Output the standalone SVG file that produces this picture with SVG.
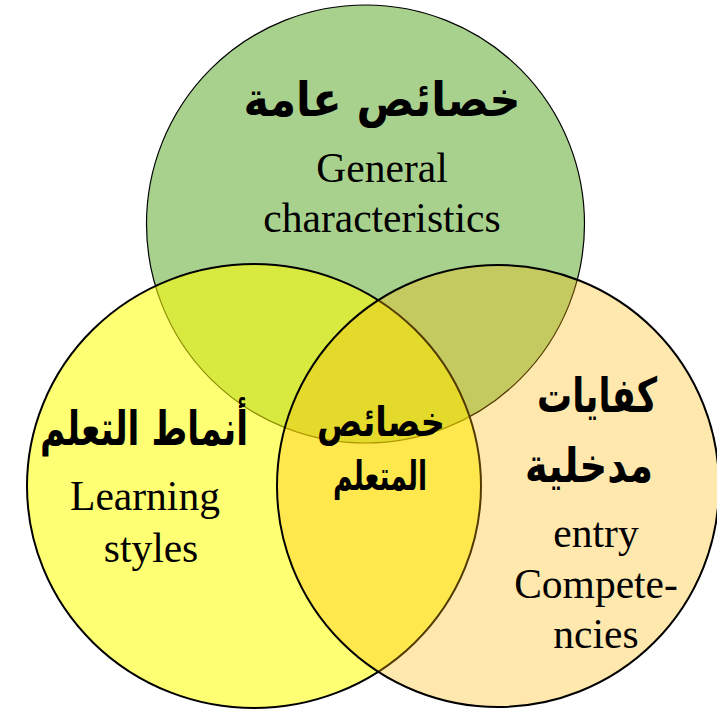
<svg xmlns="http://www.w3.org/2000/svg" width="717" height="710" viewBox="0 0 717 710">
<style>
.en{font-family:"Liberation Serif","Times New Roman",serif;font-size:41.5px;fill:#000;text-anchor:middle}
.ar{font-family:"DejaVu Sans","Noto Sans",sans-serif;font-weight:bold;font-size:48px;fill:#000;text-anchor:middle}
.arS{font-family:"DejaVu Sans","Noto Sans",sans-serif;font-weight:bold;font-size:41px;fill:#000;text-anchor:middle}
</style>
<rect width="717" height="710" fill="#fff"/>
<g id="general">
<circle cx="365.5" cy="224" r="219" fill="#a9d18e" stroke="#000" stroke-width="1.2"/>
<text class="ar" x="382" y="116" textLength="277" lengthAdjust="spacingAndGlyphs">خصائص عامة</text>
<text class="en" x="382" y="182">General</text>
<text class="en" x="382" y="232">characteristics</text>
</g>
<g id="learning-styles">
<ellipse cx="254" cy="486" rx="227" ry="222" fill="#ffff00" fill-opacity="0.55" stroke="#000" stroke-width="2"/>
<text class="ar" x="144" y="445" textLength="208" lengthAdjust="spacingAndGlyphs">أنماط التعلم</text>
<text class="en" x="145" y="510">Learning</text>
<text class="en" x="151" y="562">styles</text>
</g>
<g id="entry-competencies">
<circle cx="498" cy="486" r="221" fill="#ffb700" fill-opacity="0.32" stroke="#000" stroke-width="2"/>
<text class="ar" x="597" y="412" textLength="120" lengthAdjust="spacingAndGlyphs">كفايات</text>
<text class="ar" x="589" y="482" textLength="128" lengthAdjust="spacingAndGlyphs">مدخلية</text>
<text class="en" x="596" y="547">entry</text>
<text class="en" x="596" y="598">Compete-</text>
<text class="en" x="596" y="648">ncies</text>
</g>
<g id="learner-characteristics">
<text class="arS" x="381" y="436" textLength="128" lengthAdjust="spacingAndGlyphs">خصائص</text>
<text class="arS" x="380" y="490" textLength="94" lengthAdjust="spacingAndGlyphs">المتعلم</text>
</g>
</svg>
